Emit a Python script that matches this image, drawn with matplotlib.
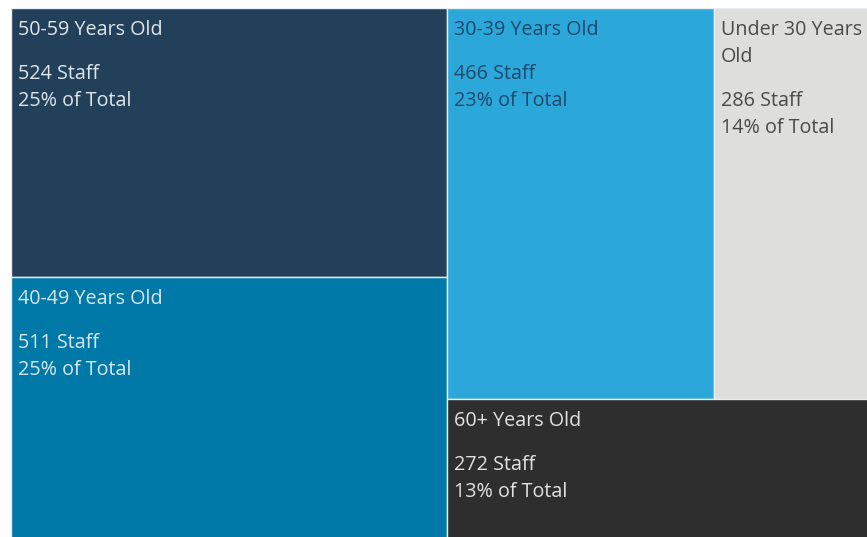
import numpy as np
import matplotlib.pyplot as plt
from matplotlib.patches import Rectangle

# Staff counts by age band
groups = ['50-59 Years Old', '40-49 Years Old', '30-39 Years Old', 'Under 30 Years\nOld', '60+ Years Old']
staff = [524, 511, 466, 286, 272]
pct = [25, 25, 23, 14, 13]

colors = ['#22405a', '#0078a8', '#2ba7da', '#dededc', '#2e2e2e']
text_colors = ['#dfe6ea', '#d6e9f2', '#1d4a6b', '#4a4a4a', '#e2e2e2']

plt.rcParams['font.family'] = ['Open Sans', 'DejaVu Sans']

fig = plt.figure(figsize=(8.67, 5.37), dpi=100)
# the treemap runs a little past the right/bottom edge of the picture
ax = fig.add_axes([11 / 867, -3 / 537, 867 / 867, 532 / 537])
ax.set_xlim(0, 1)
ax.set_ylim(0, 1)
ax.axis('off')

total = float(sum(staff))
v = np.array(staff) / total

# left column: 50-59 over 40-49
left_w = v[0] + v[1]
rects = []
h0 = v[0] / left_w
rects.append((0, 1 - h0, left_w, h0))
rects.append((0, 0, left_w, 1 - h0))
# right column: top row (30-39, under 30), bottom 60+
right_w = 1 - left_w
top_h = (v[2] + v[3]) / right_w
w2 = v[2] / (v[2] + v[3]) * right_w
rects.append((left_w, 1 - top_h, w2, top_h))
rects.append((left_w + w2, 1 - top_h, right_w - w2, top_h))
rects.append((left_w, 0, right_w, 1 - top_h))


def label(x, y, s, dy, color):
    ax.annotate(s, (x, y), xytext=(7, dy), textcoords='offset pixels',
                ha='left', va='center', fontsize=14.2, color=color)


for i, (x, y, w, h) in enumerate(rects):
    ax.add_patch(Rectangle((x, y), w, h, facecolor=colors[i], edgecolor='#e8eef2', linewidth=1))
    tc = text_colors[i]
    lines = groups[i].split('\n')
    for k, line in enumerate(lines):
        label(x, y + h, line, -22 - 27 * k, tc)
    extra = 27 * (len(lines) - 1)
    label(x, y + h, f'{staff[i]} Staff', -66 - extra, tc)
    label(x, y + h, f'{pct[i]}% of Total', -93 - extra, tc)

fig.savefig('out.png', dpi=100, facecolor='white')
